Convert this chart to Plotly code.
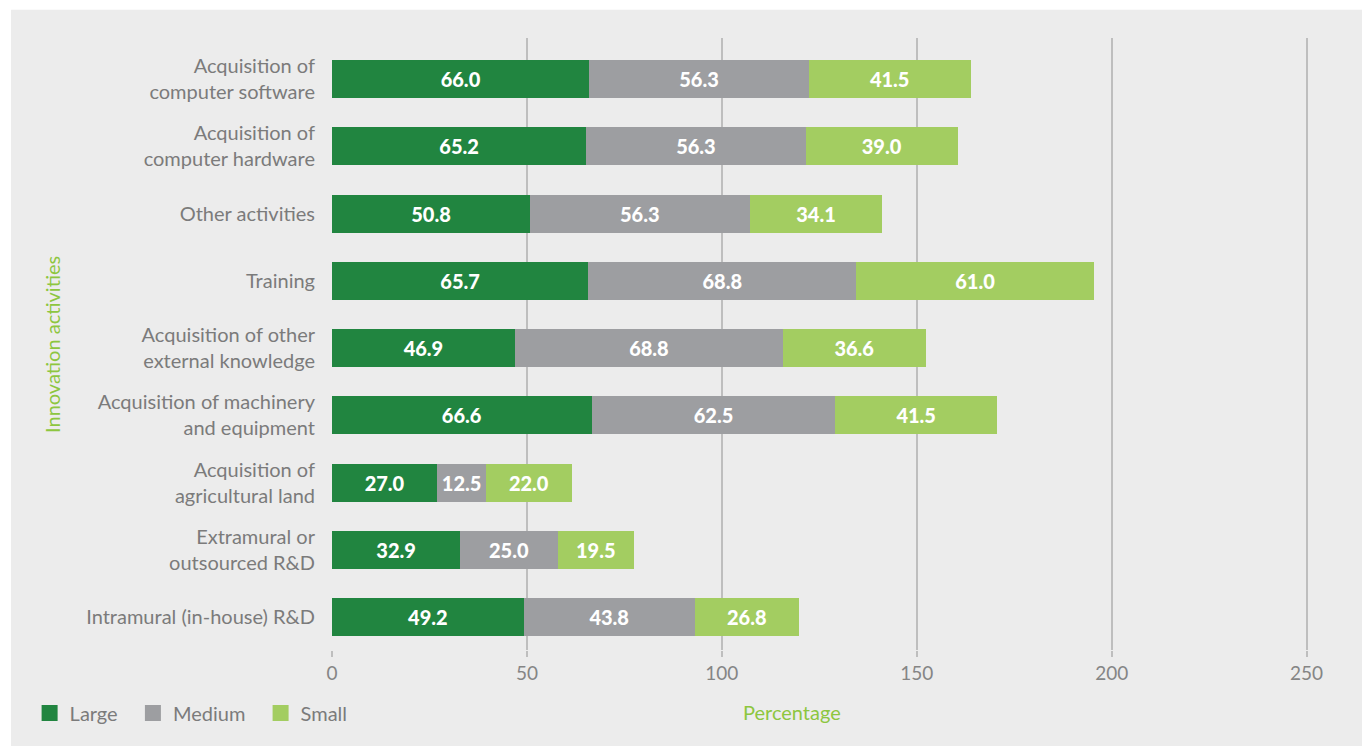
import plotly.graph_objects as go

# Innovation activities, listed top to bottom
activities = [
    "Acquisition of<br>computer software",
    "Acquisition of<br>computer hardware",
    "Other activities",
    "Training",
    "Acquisition of other<br>external knowledge",
    "Acquisition of machinery<br>and equipment",
    "Acquisition of<br>agricultural land",
    "Extramural or<br>outsourced R&D",
    "Intramural (in-house) R&D",
]

large = [66.0, 65.2, 50.8, 65.7, 46.9, 66.6, 27.0, 32.9, 49.2]
medium = [56.3, 56.3, 56.3, 68.8, 68.8, 62.5, 12.5, 25.0, 43.8]
small = [41.5, 39.0, 34.1, 61.0, 36.6, 41.5, 22.0, 19.5, 26.8]

x_ticks = [0, 50, 100, 150, 200, 250]

series = [
    ("Large", large, "#218540"),
    ("Medium", medium, "#9D9EA1"),
    ("Small", small, "#A3CD61"),
]

FONT = "Lato"
GREY_TEXT = "#7B7B7B"
GREEN_TITLE = "#8DC63F"
GRID = "#BEBEBE"
LEGEND_PAD = "\u00a0" * 2  # extra room between legend entries

fig = go.Figure()

for name, vals, color in series:
    fig.add_trace(go.Bar(
        y=activities,
        x=vals,
        orientation="h",
        name=name,
        marker=dict(color=color, line=dict(width=0)),
        text=[f"{v:.1f}" for v in vals],
        textposition="inside",
        insidetextanchor="middle",
        textangle=0,
        textfont=dict(family=FONT, size=20, color="white", weight=900),
        showlegend=False,
        hoverinfo="skip",
    ))
    # legend swatch
    fig.add_trace(go.Scatter(
        x=[None], y=[None],
        mode="markers",
        name=name + LEGEND_PAD,
        marker=dict(symbol="square", size=19, color=color, line=dict(width=0)),
        showlegend=True,
    ))

fig.update_layout(
    barmode="stack",
    bargap=0.435,
    width=1362,
    height=748,
    margin=dict(l=332, r=32, t=38, b=98),
    paper_bgcolor="white",
    plot_bgcolor="rgba(0,0,0,0)",
    font=dict(family=FONT, color=GREY_TEXT, size=20),
    uniformtext=dict(minsize=20, mode="show"),
    legend=dict(
        orientation="h",
        traceorder="normal",
        x=-0.303, xanchor="left",
        y=-0.103, yanchor="middle",
        font=dict(family=FONT, size=20, color=GREY_TEXT),
        bgcolor="rgba(0,0,0,0)",
        itemclick=False,
    ),
    shapes=[dict(
        type="rect", xref="paper", yref="paper",
        x0=-0.3216, x1=1.04, y0=-0.157, y1=1.046,
        fillcolor="#ECECEC", line=dict(width=0), layer="below",
    )],
    annotations=[
        dict(
            text="Innovation activities", xref="paper", yref="paper",
            x=-0.2806, y=0.5, textangle=-90, showarrow=False,
            xanchor="center", yanchor="middle",
            font=dict(family=FONT, size=20, color=GREEN_TITLE),
        ),
        dict(
            text="Percentage", xref="paper", yref="paper",
            x=0.461, y=-0.101, showarrow=False,
            xanchor="center", yanchor="middle",
            font=dict(family=FONT, size=20, color=GREEN_TITLE),
        ),
    ],
)

fig.update_xaxes(
    range=[0, 256],
    tickvals=x_ticks,
    showgrid=True, gridcolor=GRID, gridwidth=2,
    zeroline=False,
    ticks="outside", ticklen=6, tickwidth=2, tickcolor=GRID,
    tickfont=dict(family=FONT, size=19, color="#858585"),
    showline=False,
)
fig.update_yaxes(
    range=[8.49, -0.61],
    type="category",
    showgrid=False,
    ticks="",
    ticklabelstandoff=16,
    tickfont=dict(family=FONT, size=20, color=GREY_TEXT),
    showline=False,
)

fig.write_html("out.html")
